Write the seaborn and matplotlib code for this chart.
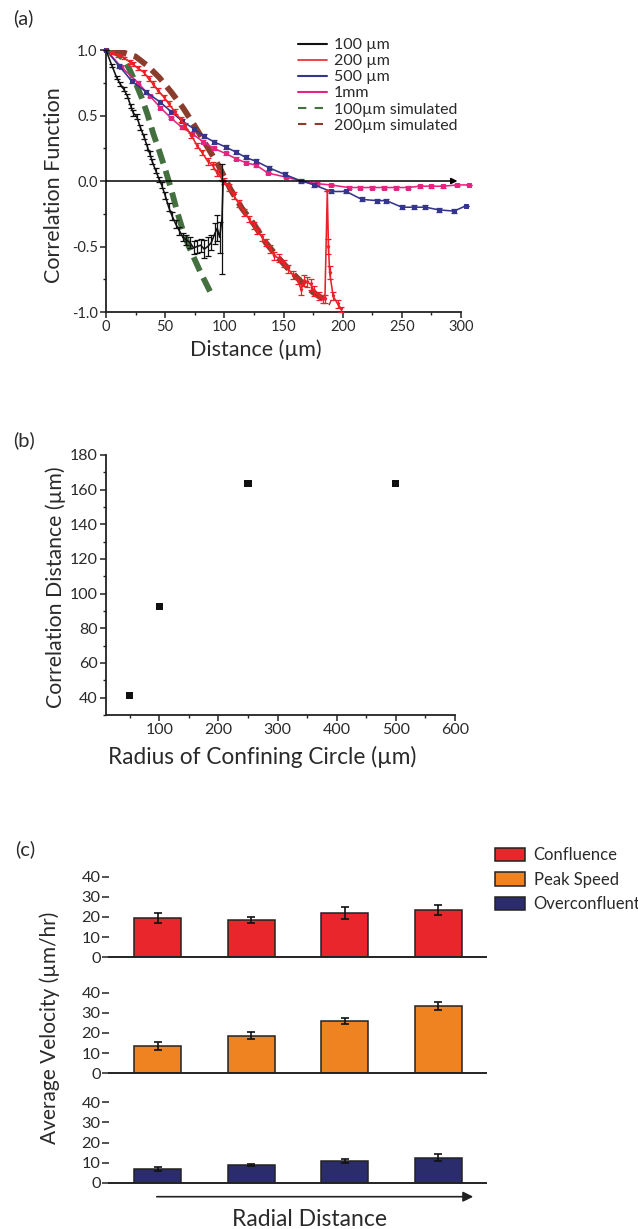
import numpy as np
import pandas as pd
import matplotlib
matplotlib.use('Agg')
import matplotlib.pyplot as plt
import seaborn as sns
from matplotlib.lines import Line2D
from matplotlib.patches import Patch, FancyArrowPatch
from matplotlib.ticker import MultipleLocator

# ---------------- data ----------------
# panel (a): correlation function vs distance
d_100 = [0, 5, 9, 12, 15, 18, 21, 23, 26, 29, 32, 35, 37, 39, 42, 45, 47, 50, 53, 56, 59, 62, 65, 68,
         71, 74, 77, 80, 83, 86, 89, 92, 94, 96, 98, 99]
c_100 = [1.0, 0.88, 0.79, 0.74, 0.70, 0.65, 0.57, 0.52, 0.49, 0.41, 0.34, 0.26, 0.21, 0.15, 0.08, 0.01,
         -0.03, -0.11, -0.20, -0.27, -0.33, -0.38, -0.43, -0.45, -0.47, -0.51, -0.50, -0.49, -0.52,
         -0.50, -0.47, -0.40, -0.36, -0.43, -0.29, 0.0]
e_100 = [0, .01, .01, .015, .015, .015, .015, .02, .02, .02, .02, .02, .02, .02, .02, .02, .02, .025,
         .03, .03, .03, .03, .03, .04, .04, .05, .05, .05, .07, .07, .06, .08, .1, .12, .42, 0.0]

d_200 = [0, 5, 10, 15, 20, 23, 27, 32, 36, 40, 44, 49, 53, 58, 63, 67, 72, 77, 81, 86, 90, 94, 97, 100,
         104, 108, 112, 117, 121, 125, 128, 132, 135, 139, 142, 146, 150, 154, 158, 162, 165, 167, 170,
         173, 176, 180, 183, 185, 187, 188, 189, 192, 196, 199]
c_200 = [1.0, 0.98, 0.96, 0.94, 0.91, 0.89, 0.86, 0.83, 0.78, 0.74, 0.69, 0.64, 0.59, 0.53, 0.47, 0.42,
         0.35, 0.27, 0.22, 0.15, 0.12, 0.06, 0.03, 0.0, -0.05, -0.11, -0.17, -0.24, -0.29, -0.34, -0.38,
         -0.43, -0.47, -0.52, -0.57, -0.59, -0.63, -0.67, -0.72, -0.76, -0.83, -0.76, -0.77, -0.79,
         -0.84, -0.88, -0.90, -0.90, -0.08, -0.50, -0.70, -0.88, -0.94, -0.98]
e_200 = [0, .01, .01, .01, .015, .015, .015, .02, .02, .02, .02, .02, .02, .02, .02, .02, .02, .02, .02,
         .025, .025, .025, .025, .025, .025, .025, .025, .025, .025, .025, .025, .025, .025, .03, .03, .03,
         .03, .03, .03, .03, .04, .04, .04, .04, .04, .03, .03, .03, 0.0, .06, .05, .03, .03, .02]

d_500 = [0, 11, 22, 34, 46, 55, 64, 74, 83, 91, 101, 110, 118, 127, 138, 151, 165, 176, 190, 203, 216,
         229, 237, 250, 260, 270, 281, 294, 304]
c_500 = [1.0, 0.88, 0.76, 0.68, 0.60, 0.53, 0.46, 0.40, 0.34, 0.30, 0.26, 0.22, 0.18, 0.15, 0.10, 0.05,
         0.0, -0.03, -0.08, -0.08, -0.14, -0.15, -0.15, -0.20, -0.20, -0.20, -0.22, -0.23, -0.19]
e_500 = [0] + [0.015] * 27 + [0]

d_1mm = [0, 13, 27, 37, 46, 55, 64, 73, 82, 91, 101, 110, 118, 127, 137, 152, 165, 178, 190, 205, 215,
         225, 235, 245, 255, 265, 275, 285, 297, 307]
c_1mm = [1.0, 0.87, 0.75, 0.65, 0.56, 0.48, 0.41, 0.36, 0.30, 0.25, 0.21, 0.17, 0.14, 0.12, 0.06, 0.03,
         0.0, -0.02, -0.03, -0.05, -0.05, -0.05, -0.05, -0.05, -0.05, -0.04, -0.04, -0.04, -0.03, -0.03]
e_1mm = [0] + [0.01] * 28 + [0]

d_sim100 = [3, 5, 10, 15, 20, 25, 30, 35, 40, 45, 50, 55, 60, 65, 70, 75, 80, 85, 90]
c_sim100 = [1.0, 0.99, 0.97, 0.93, 0.85, 0.75, 0.64, 0.51, 0.36, 0.23, 0.09, -0.06, -0.23, -0.38,
            -0.50, -0.60, -0.70, -0.79, -0.88]
d_sim200 = [5, 15, 25, 35, 45, 55, 65, 75, 85, 95, 105, 115, 125, 135, 145, 155, 165, 175, 185, 190]
c_sim200 = [1.0, 0.98, 0.95, 0.88, 0.79, 0.68, 0.56, 0.42, 0.27, 0.12, -0.06, -0.21, -0.33, -0.47,
            -0.58, -0.68, -0.77, -0.85, -0.91, -0.93]

legend_a = ["100 µm", "200 µm", "500 µm", "1mm", "100µm simulated", "200µm simulated"]

# panel (b)
radius = [50, 100, 250, 500]
corr_dist = [41.5, 92.7, 163.5, 163.5]

# panel (c)
positions = ["r1", "r2", "r3", "r4"]
confluence = [19.4, 18.5, 22.0, 23.5]
confluence_err = [2.5, 1.7, 2.8, 2.4]
peak_speed = [13.5, 18.7, 26.1, 33.4]
peak_speed_err = [1.8, 1.7, 1.4, 1.9]
overconfluent = [6.8, 8.8, 10.8, 12.4]
overconfluent_err = [1.1, 0.7, 1.15, 1.8]
legend_c = ["Confluence", "Peak Speed", "Overconfluent"]

# ---------------- style ----------------
sns.set_theme(style='ticks')
plt.rcParams['font.family'] = ['Lato', 'DejaVu Sans']
plt.rcParams['axes.unicode_minus'] = False
TXT = '#2a2a2a'

W, H = 638, 1229
fig = plt.figure(figsize=(W / 100, H / 100), dpi=100)
fig.patch.set_facecolor('white')


def ax_px(l, t, r, b):
    return fig.add_axes([l / W, 1 - b / H, (r - l) / W, (b - t) / H])


def ftext(x, y, s, fs, rot=0, ha='center'):
    fig.text(x / W, 1 - y / H, s, fontsize=fs, color=TXT, ha=ha, va='center', rotation=rot)


def style_axes(ax, fs):
    for s in ['top', 'right']:
        ax.spines[s].set_visible(False)
    for s in ['left', 'bottom']:
        ax.spines[s].set_linewidth(1.3)
        ax.spines[s].set_color('#222222')
    ax.tick_params(which='major', direction='out', length=4, width=1.1, color='#222222',
                   labelsize=fs, labelcolor=TXT, pad=2)
    ax.tick_params(which='minor', direction='out', length=2.5, width=1.0, color='#222222')


# ---------------- panel (a) ----------------
axa = ax_px(106, 50, 461, 312)
col_black, col_red, col_blue, col_mag = '#111111', '#ec2027', '#35358c', '#e6237f'
col_green, col_brown = '#44703f', '#8a3d2c'

dash = (0, (2.6, 1.3))
sns.lineplot(x=d_sim100, y=c_sim100, ax=axa, color=col_green, lw=4.2, linestyle=dash,
             estimator=None, sort=False, legend=False, zorder=2)
sns.lineplot(x=d_sim200, y=c_sim200, ax=axa, color=col_brown, lw=4.2, linestyle=dash,
             estimator=None, sort=False, legend=False, zorder=2)

series = [
    (d_1mm, c_1mm, e_1mm, col_mag, 's', 2.6),
    (d_500, c_500, e_500, col_blue, 's', 2.6),
    (d_200, c_200, e_200, col_red, 'v', 2.0),
    (d_100, c_100, e_100, col_black, None, 0),
]
for d, c, e, col, mk, ms in series:
    sns.lineplot(x=d, y=c, ax=axa, color=col, lw=1.15, marker=mk, markersize=ms,
                 markeredgecolor=col, estimator=None, sort=False, legend=False, zorder=3,
                 clip_on=False)
    axa.errorbar(d, c, yerr=e, fmt='none', ecolor=col, elinewidth=0.9, capsize=2.0,
                 capthick=0.9, zorder=3, clip_on=False)

axa.annotate('', xy=(297, 0), xytext=(0, 0),
             arrowprops=dict(arrowstyle='-|>', color='black', lw=1.1, mutation_scale=9,
                             shrinkA=0, shrinkB=0), zorder=4)
axa.set_xlim(0, 300)
axa.set_ylim(-1.0, 1.0)
axa.set_xticks([0, 50, 100, 150, 200, 250, 300])
axa.set_yticks([-1.0, -0.5, 0.0, 0.5, 1.0])
axa.xaxis.set_minor_locator(MultipleLocator(25))
axa.yaxis.set_minor_locator(MultipleLocator(0.25))
axa.set_yticklabels(['-1.0', '-0.5', '0.0', '0.5', '1.0'])
style_axes(axa, 10.5)
ftext(256, 350, 'Distance (µm)', 15.5)
ftext(54, 185, 'Correlation Function', 15.5, rot=90)

handles_a = [Line2D([], [], color=col_black, lw=1.5), Line2D([], [], color=col_red, lw=1.2),
             Line2D([], [], color=col_blue, lw=1.5), Line2D([], [], color=col_mag, lw=1.5),
             Line2D([], [], color=col_green, lw=1.5, linestyle=(0, (4, 4))),
             Line2D([], [], color=col_brown, lw=1.5, linestyle=(0, (4, 4)))]
fig.legend(handles_a, legend_a, loc='upper left', bbox_to_anchor=(290 / W, 1 - 30 / H),
           frameon=False, fontsize=11.5, handlelength=1.8, handletextpad=0.45,
           labelspacing=0.12, borderpad=0, labelcolor=TXT)

# ---------------- panel (b) ----------------
axb = ax_px(106, 455, 455, 715)
sns.scatterplot(x=radius, y=corr_dist, ax=axb, marker='s', s=26, color='#111111',
                edgecolor='none', legend=False)
axb.set_xlim(10, 600)
axb.set_ylim(30, 180)
axb.set_xticks([100, 200, 300, 400, 500, 600])
axb.set_yticks([40, 60, 80, 100, 120, 140, 160, 180])
axb.xaxis.set_minor_locator(MultipleLocator(50))
axb.yaxis.set_minor_locator(MultipleLocator(10))
style_axes(axb, 11.5)
ftext(262, 757, 'Radius of Confining Circle (µm)', 16.3)
ftext(56, 587, 'Correlation Distance (µm)', 15.3, rot=90)

# ---------------- panel (c) ----------------
bar_cols = ['#e8262b', '#f08321', '#2b2c6c']
rows = [(confluence, confluence_err, 876.7, 957.3),
        (peak_speed, peak_speed_err, 992.7, 1073.3),
        (overconfluent, overconfluent_err, 1102.3, 1182.7)]
for (vals, errs, top, bot), col in zip(rows, bar_cols):
    ax = ax_px(109, top, 486, bot)
    df = pd.DataFrame({'pos': positions, 'v': vals})
    sns.barplot(data=df, x='pos', y='v', ax=ax, color=col, saturation=1, width=0.5,
                edgecolor='#222222', linewidth=1.1, errorbar=None)
    ax.errorbar(range(len(vals)), vals, yerr=errs, fmt='none', ecolor='#111111',
                elinewidth=1.2, capsize=3, capthick=1.2, zorder=5)
    ax.set_xlim(-0.52, 3.51)
    ax.set_ylim(0, 40)
    ax.set_yticks([0, 10, 20, 30, 40])
    style_axes(ax, 11.8)
    ax.spines['left'].set_visible(False)
    ax.spines['bottom'].set_linewidth(1.4)
    ax.tick_params(axis='y', length=5)
    ax.tick_params(axis='x', bottom=False, labelbottom=False)
    ax.tick_params(axis='y', pad=1)
    ax.set_xlabel('')
    ax.set_ylabel('')

handles_c = [Patch(facecolor=c, edgecolor='#222222', linewidth=1.1) for c in bar_cols]
fig.legend(handles_c, legend_c, loc='upper left', bbox_to_anchor=(487 / W, 1 - 839 / H),
           frameon=False, fontsize=12, handlelength=1.75, handleheight=0.85,
           handletextpad=0.55, labelspacing=0.5, borderpad=0, labelcolor=TXT)

# radial arrow and labels
fig.add_artist(FancyArrowPatch(
    (154 / W, 1 - 1196.7 / H), (476 / W, 1 - 1196.7 / H), transform=fig.transFigure,
    arrowstyle='-|>', mutation_scale=15, lw=1.2, color='#222222'))
ftext(310, 1219, 'Radial Distance', 16.5)
ftext(50, 1028, 'Average Velocity (µm/hr)', 15, rot=90)

# panel letters
ftext(13, 18, '(a)', 14.5, ha='left')
ftext(13, 440, '(b)', 14.5, ha='left')
ftext(15, 849, '(c)', 14.5, ha='left')

fig.savefig('out.png', dpi=100, facecolor='white')
